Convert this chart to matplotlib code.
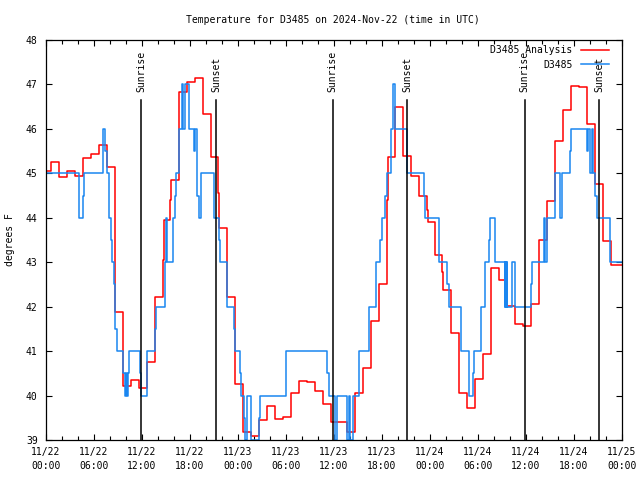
import matplotlib
matplotlib.use('Agg')
import matplotlib.pyplot as plt
import matplotlib.dates as mdates
import matplotlib.transforms as mtransforms
import pandas as pd

plt.rcParams['font.family'] = ['DejaVu Sans Mono']
plt.rcParams['font.size'] = 7

# hours after 2024-11-22 00:00 UTC where each value starts
red_hours = [0, 0.67, 1.67, 2.67, 3.67, 4.67, 5.67, 6.67, 7.67, 8.67,
             9.58, 10.58, 11.67, 12.67, 13.58, 13.67, 14.67, 14.75, 15.5, 15.67,
             16.58, 17.58, 18.58, 19.58, 20.67, 21.5, 21.67, 22.67, 23.67, 24.67,
             25.67, 26.6, 27.67, 28.67, 29.67, 30.67, 31.67, 32.67, 33.67, 34.67,
             35.67, 37.58, 38.58, 39.58, 40.58, 41.58, 42.58, 42.63, 42.75, 43.58,
             44.58, 45.58, 46.58, 47.58, 47.8, 48.58, 49.5, 49.6, 50.58, 51.58,
             52.58, 53.58, 54.58, 55.58, 56.58, 57.58, 58.58, 59.58, 60.58, 61.58,
             62.58, 63.58, 64.58, 65.58, 66.58, 67.58, 68.58, 69.58, 70.58]
red_vals = [45.05, 45.25, 44.91, 45.05, 44.93, 45.34, 45.43, 45.63, 45.14, 41.88,
            40.21, 40.36, 40.16, 40.75, 41.48, 42.21, 43.05, 43.94, 44.4, 44.84,
            46.83, 47.06, 47.14, 46.34, 45.36, 44.55, 43.76, 42.21, 40.27, 39.19,
            39.09, 39.45, 39.77, 39.47, 39.52, 40.06, 40.33, 40.30, 40.10, 39.82,
            39.40, 39.19, 40.05, 40.62, 41.68, 42.52, 43.41, 44.4, 45.37, 46.49,
            45.4, 44.93, 44.5, 44.17, 43.9, 43.16, 42.79, 42.37, 41.4, 40.05,
            39.73, 40.37, 40.93, 42.88, 42.61, 42.02, 41.6, 41.56, 42.06, 43.5,
            44.38, 45.73, 46.42, 46.96, 46.94, 46.1, 44.75, 43.47, 42.94]

blue_hours = [0, 4.17, 4.6, 4.75, 7.17, 7.42, 7.67, 7.92, 8.08, 8.25,
              8.5, 8.67, 8.83, 9.67, 9.83, 10.0, 10.08, 10.25, 10.42, 11.75,
              11.92, 12.58, 12.67, 13.67, 13.75, 14.92, 15.0, 15.1, 15.83, 15.92,
              16.17, 16.25, 16.67, 17.0, 17.17, 17.42, 17.92, 18.5, 18.58, 18.83,
              18.92, 19.08, 19.42, 21.0, 21.58, 21.75, 22.58, 22.67, 23.5, 23.67,
              24.25, 24.42, 24.75, 24.92, 25.08, 25.58, 25.67, 26.67, 26.75, 30.0,
              35.17, 35.33, 36.08, 36.33, 37.58, 37.92, 38.0, 38.33, 38.42, 39.08,
              40.42, 41.25, 41.75, 42.0, 42.42, 42.58, 43.08, 43.42, 43.58, 45.17,
              47.25, 47.42, 49.17, 50.17, 50.33, 51.92, 52.83, 52.92, 53.42, 53.5,
              54.42, 54.83, 55.42, 55.5, 56.08, 56.17, 57.33, 57.42, 57.5, 57.58,
              57.67, 58.25, 58.67, 60.58, 60.7, 62.25, 62.42, 62.58, 63.58, 64.25,
              64.5, 65.5, 65.67, 67.58, 67.75, 68.0, 68.25, 68.42, 68.67, 68.83,
              70.5]
blue_vals = [45.0, 44.0, 44.5, 45.0, 46.0, 45.5, 45.0, 44.0, 43.5, 43.0,
             42.5, 41.5, 41.0, 40.5, 40.0, 40.5, 40.0, 40.5, 41.0, 40.5,
             40.0, 40.5, 41.0, 41.5, 42.0, 43.0, 44.0, 43.0, 43.5, 44.0,
             44.5, 45.0, 46.0, 47.0, 46.0, 47.0, 46.0, 45.5, 46.0, 45.5,
             44.5, 44.0, 45.0, 44.0, 43.5, 43.0, 42.5, 42.0, 41.5, 41.0,
             40.5, 40.0, 39.5, 39.0, 40.0, 39.5, 39.0, 39.5, 40.0, 41.0,
             40.5, 40.0, 39.0, 40.0, 39.0, 40.0, 39.0, 39.5, 40.0, 41.0,
             42.0, 43.0, 43.5, 44.0, 44.5, 45.0, 46.0, 47.0, 46.0, 45.0,
             44.5, 44.0, 43.0, 42.5, 42.0, 41.0, 40.5, 40.0, 40.5, 41.0,
             42.0, 43.0, 43.5, 44.0, 43.5, 43.0, 42.0, 43.0, 42.0, 43.0,
             42.0, 43.0, 42.0, 42.5, 43.0, 44.0, 43.0, 44.0, 45.0, 44.0,
             45.0, 45.5, 46.0, 45.5, 46.0, 45.0, 46.0, 45.0, 44.5, 44.0,
             43.0]

sunrise_hours = [11.9, 35.85, 59.83]
sunset_hours = [21.3, 45.17, 69.17]

start = pd.Timestamp('2024-11-22 00:00')
end = start + pd.Timedelta(hours=72)


def to_time(hours):
    return [start + pd.Timedelta(hours=h) for h in hours]


fig = plt.figure(figsize=(6.4, 4.8), dpi=100)
ax = fig.add_axes([46 / 640, 40 / 480, 576 / 640, 400 / 480])

rt = to_time(red_hours) + [end]
bt = to_time(blue_hours) + [end]
ax.step(rt, red_vals + [red_vals[-1]], where='post', color='#ff0000',
        lw=1.1, label='D3485 Analysis')
ax.step(bt, blue_vals + [blue_vals[-1]], where='post', color='#1a86f0',
        lw=1.1, label='D3485')

trans = mtransforms.blended_transform_factory(ax.transData, ax.transAxes)
for name, hrs in [('Sunrise', sunrise_hours), ('Sunset', sunset_hours)]:
    for t in to_time(hrs):
        ax.axvline(t, ymin=0, ymax=0.85, color='black', lw=1.1)
        ax.text(t, 0.87, name, transform=trans, rotation=90,
                ha='center', va='bottom')

ax.set_xlim(start, end)
ax.set_ylim(39, 48)
ax.set_yticks(range(39, 49))
ax.xaxis.set_major_locator(mdates.HourLocator(byhour=[0, 6, 12, 18]))
ax.xaxis.set_minor_locator(mdates.HourLocator(byhour=range(0, 24, 2)))
ax.xaxis.set_major_formatter(mdates.DateFormatter('%m/%d\n%H:%M'))
for lbl in ax.get_xticklabels():
    lbl.set_linespacing(1.45)

ax.tick_params(which='both', direction='in', top=True, right=True)
ax.tick_params(which='major', length=4.5, width=0.8, pad=5)
ax.tick_params(which='minor', length=3, width=0.8)
ax.tick_params(axis='y', pad=6)
for s in ax.spines.values():
    s.set_linewidth(0.9)

leg = ax.legend(loc='upper right', bbox_to_anchor=(0.978, 0.987),
                frameon=False, markerfirst=False, handlelength=2.9,
                handletextpad=0.9, labelspacing=0.45, borderpad=0,
                borderaxespad=0)

fig.text(333 / 640, 1 - 20 / 480,
         'Temperature for D3485 on 2024-Nov-22 (time in UTC)',
         ha='center', va='center')
fig.text(10 / 640, 0.5, 'degrees F', rotation=90, ha='center', va='center')

fig.savefig('out.png', dpi=100)
